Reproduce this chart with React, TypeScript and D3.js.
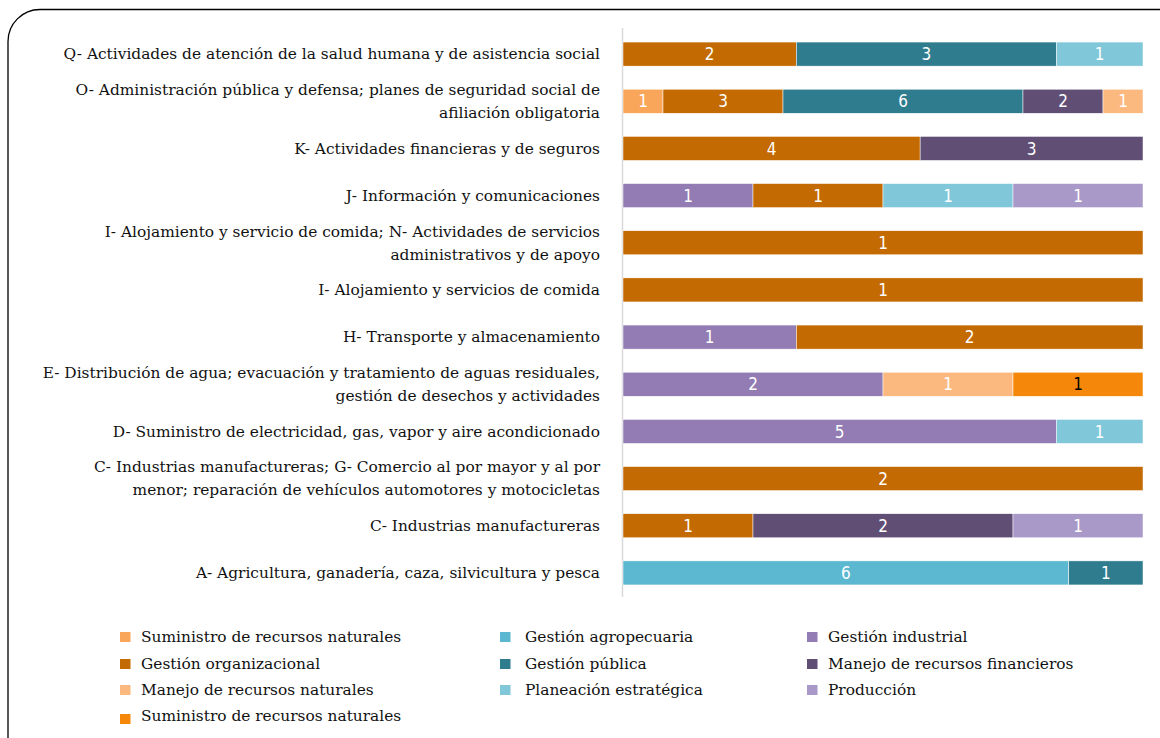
import React from "react";
import * as d3 from "d3";

const width = 1160;
const height = 738;

// categories, top to bottom, each label already split into lines
const categories = [
  ["Q- Actividades de atención de la salud humana y de asistencia social"],
  ["O- Administración pública y defensa; planes de seguridad social de", "afiliación obligatoria"],
  ["K- Actividades financieras y de seguros"],
  ["J- Información y comunicaciones"],
  ["I- Alojamiento y servicio de comida; N- Actividades de servicios", "administrativos y de apoyo"],
  ["I- Alojamiento y servicios de comida"],
  ["H- Transporte y almacenamiento"],
  ["E- Distribución de agua; evacuación y tratamiento de aguas residuales,", "gestión de desechos y actividades"],
  ["D- Suministro de electricidad, gas, vapor y aire acondicionado"],
  ["C- Industrias manufactureras; G- Comercio al por mayor y al por", "menor; reparación de vehículos automotores  y motocicletas"],
  ["C- Industrias manufactureras"],
  ["A- Agricultura, ganadería, caza, silvicultura y pesca"],
];

const seriesNames = [
  "Suministro de recursos naturales",
  "Gestión agropecuaria",
  "Gestión industrial",
  "Gestión organizacional",
  "Gestión pública",
  "Manejo de recursos financieros",
  "Manejo de recursos naturales",
  "Planeación estratégica",
  "Producción",
  "Suministro de recursos naturales",
];

const colors = [
  "#F9A65A",
  "#5BB8D0",
  "#937BB3",
  "#C46A02",
  "#2F7C8F",
  "#604E75",
  "#FBB97F",
  "#80C7D9",
  "#A999C8",
  "#F5880A",
];

//                        Q  O  K  J IN  I  H  E  D CG  C  A
const suministro1     = [0, 1, 0, 0, 0, 0, 0, 0, 0, 0, 0, 0];
const agropecuaria    = [0, 0, 0, 0, 0, 0, 0, 0, 0, 0, 0, 6];
const industrial      = [0, 0, 0, 1, 0, 0, 1, 2, 5, 0, 0, 0];
const organizacional  = [2, 3, 4, 1, 1, 1, 2, 0, 0, 2, 1, 0];
const publica         = [3, 6, 0, 0, 0, 0, 0, 0, 0, 0, 0, 1];
const financieros     = [0, 2, 3, 0, 0, 0, 0, 0, 0, 0, 2, 0];
const naturales       = [0, 1, 0, 0, 0, 0, 0, 1, 0, 0, 0, 0];
const planeacion      = [1, 0, 0, 1, 0, 0, 0, 0, 1, 0, 0, 0];
const produccion      = [0, 0, 0, 1, 0, 0, 0, 0, 0, 0, 1, 0];
const suministro2     = [0, 0, 0, 0, 0, 0, 0, 1, 0, 0, 0, 0];

const seriesValues = [
  suministro1, agropecuaria, industrial, organizacional, publica,
  financieros, naturales, planeacion, produccion, suministro2,
];

const keys = seriesNames.map((_, i) => `s${i}`);
const rows = categories.map((_, ci) => {
  const row: Record<string, number> = { idx: ci };
  keys.forEach((k, si) => (row[k] = seriesValues[si][ci]));
  return row;
});

const stacked = d3.stack<Record<string, number>>().keys(keys).offset(d3.stackOffsetExpand)(rows);

const x = d3.scaleLinear().domain([0, 1]).range([623, 1143]);
const y = d3
  .scaleBand<number>()
  .domain(categories.map((_, i) => i))
  .range([30.5, 596.5])
  .paddingInner(0.49)
  .paddingOuter(0.245);

const serif = "'DejaVu Serif', serif";
const narrow = "'DejaVu Sans Condensed', 'Liberation Sans Narrow', sans-serif";

const legendSq = [120, 500, 807];
const legendTx = [141, 525, 828];
const legendRowY = [637, 664, 690, 716];

const App = () => (
  <svg width={width} height={height} style={{ position: "absolute", left: 0, top: 0 }}>
    <rect x={0} y={0} width={width} height={height} fill="#fff" />
    <rect x={8} y={9.5} width={1200} height={780} rx={32} fill="none" stroke="#000" strokeWidth={1.3} />

    <line x1={622.5} x2={622.5} y1={28} y2={597} stroke="#d9d9d9" strokeWidth={1.5} />

    {categories.map((lines, i) => {
      const cy = y(i)! + y.bandwidth() / 2;
      const lh = 23;
      const y0 = cy - ((lines.length - 1) * lh) / 2;
      return (
        <text key={i} x={600} textAnchor="end" fontFamily={serif} fontSize={15.4} fill="#111">
          {lines.map((l, j) => (
            <tspan key={j} x={600} y={y0 + j * lh} dy="0.35em">
              {l}
            </tspan>
          ))}
        </text>
      );
    })}

    {stacked.map((s, si) => (
      <g key={si}>
        {s.map((d, ci) => {
          const v = seriesValues[si][ci];
          if (!v) return null;
          const x0 = x(d[0]);
          const x1 = x(d[1]);
          const yy = y(ci)!;
          return (
            <g key={ci}>
              <rect
                x={x0}
                y={yy}
                width={x1 - x0}
                height={y.bandwidth()}
                fill={colors[si]}
                stroke="#fff"
                strokeWidth={0.5}
              />
              <text
                x={(x0 + x1) / 2}
                y={yy + y.bandwidth() / 2}
                dy="0.36em"
                textAnchor="middle"
                fontFamily={narrow}
                fontStretch="condensed"
                fontSize={17}
                fill={si === 9 ? "#000" : "#fff"}
              >
                {v}
              </text>
            </g>
          );
        })}
      </g>
    ))}

    {seriesNames.map((name, i) => {
      const col = i % 3;
      const ly = legendRowY[Math.floor(i / 3)];
      return (
        <g key={i}>
          <rect x={legendSq[col]} y={ly - 5 + (i === 9 ? 3 : 0)} width={10.5} height={10} fill={colors[i]} />
          <text x={legendTx[col]} y={ly} dy="0.35em" fontFamily={serif} fontSize={15.4} fill="#111">
            {name}
          </text>
        </g>
      );
    })}
  </svg>
);

export default App;
